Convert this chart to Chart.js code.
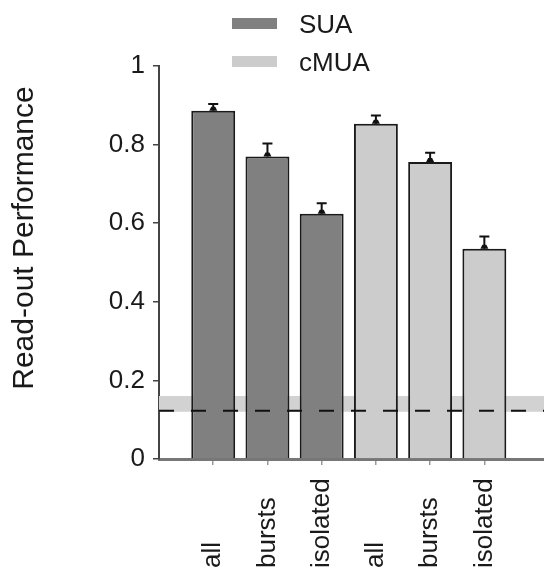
<!DOCTYPE html>
<html><head><meta charset="utf-8">
<script src="https://cdn.jsdelivr.net/npm/chart.js@4"></script>
<style>html,body{margin:0;padding:0;background:#fff;} #wrap{width:544px;height:572px;}</style>
</head><body><div id="wrap"><canvas id="c" width="544" height="572"></canvas></div>
<script>
const conditions = ['all', 'bursts', 'isolated'];
const seriesNames = ['SUA', 'cMUA'];
const suaValues = [0.886, 0.770, 0.624];
const suaErrors = [0.017, 0.033, 0.027];
const cmuaValues = [0.853, 0.756, 0.535];
const cmuaErrors = [0.021, 0.023, 0.031];
const yTicks = [0, 0.2, 0.4, 0.6, 0.8, 1];
const yTickLabels = ['0', '0.2', '0.4', '0.6', '0.8', '1'];
const chanceLevel = 0.123;
const chanceBand = [0.12, 0.16];
const yTitle = 'Read-out Performance';

const FONT = '"Liberation Sans", Arial, Helvetica, sans-serif';
const X_MAX = 7.1;
const COLORS = ['#808080', '#cccccc'];

const toPoints = (vals, offset) => vals.map((v, i) => ({x: offset + i + 1, y: v}));

const overlay = {
  id: 'overlay',
  afterDatasetsDraw(chart) {
    const ctx = chart.ctx;
    const ys = chart.scales.y;
    [[0, suaValues, suaErrors], [1, cmuaValues, cmuaErrors]].forEach(([di, vals, errs]) => {
      const meta = chart.getDatasetMeta(di);
      meta.data.forEach((bar, i) => {
        const top = ys.getPixelForValue(vals[i]);
        const end = ys.getPixelForValue(vals[i] + errs[i]);
        ctx.save();
        ctx.strokeStyle = '#111';
        ctx.lineWidth = 2;
        ctx.beginPath();
        ctx.moveTo(bar.x, top); ctx.lineTo(bar.x, end);
        ctx.moveTo(bar.x - 5, end); ctx.lineTo(bar.x + 5, end);
        ctx.stroke();
        ctx.fillStyle = '#111';
        ctx.beginPath();
        ctx.moveTo(bar.x - 4, top); ctx.lineTo(bar.x + 4, top);
        ctx.lineTo(bar.x + 2, top - 4); ctx.lineTo(bar.x - 2, top - 4);
        ctx.closePath(); ctx.fill();
        ctx.restore();
      });
    });
  },
  afterDraw(chart) {
    const ctx = chart.ctx;
    const xs = chart.scales.x;
    ctx.save();
    ctx.fillStyle = '#1a1a1a';
    ctx.font = '26px ' + FONT;
    ctx.textAlign = 'left';
    ctx.textBaseline = 'middle';
    seriesNames.forEach((s, g) => {
      conditions.forEach((c, i) => {
        const px = xs.getPixelForValue(g * conditions.length + i + 1);
        ctx.save();
        ctx.translate(px, 568);
        ctx.rotate(-Math.PI / 2);
        ctx.fillText(c, 0, 0);
        ctx.restore();
      });
    });
    ctx.save();
    ctx.font = '30px ' + FONT;
    ctx.textAlign = 'center';
    ctx.textBaseline = 'alphabetic';
    ctx.translate(33, 238);
    ctx.rotate(-Math.PI / 2);
    ctx.fillText(yTitle, 0, 0);
    ctx.restore();
    ctx.font = '26px ' + FONT;
    ctx.textAlign = 'left';
    ctx.textBaseline = 'alphabetic';
    seriesNames.forEach((s, k) => {
      ctx.fillStyle = COLORS[k];
      ctx.fillRect(232, 18 + k * 38, 45, 11);
      ctx.fillStyle = '#1a1a1a';
      ctx.fillText(s, 299, 33 + k * 38);
    });
    ctx.restore();
  }
};

new Chart(document.getElementById('c'), {
  type: 'bar',
  data: {
    datasets: [
      { type: 'bar', label: seriesNames[0], data: toPoints(suaValues, 0), backgroundColor: COLORS[0],
        borderColor: '#1a1a1a', borderWidth: 2, grouped: false, order: 2,
        barPercentage: 0.81, categoryPercentage: 1 },
      { type: 'bar', label: seriesNames[1], data: toPoints(cmuaValues, conditions.length), backgroundColor: COLORS[1],
        borderColor: '#1a1a1a', borderWidth: 2, grouped: false, order: 2,
        barPercentage: 0.81, categoryPercentage: 1 },
      { type: 'line', label: 'chance band', data: [{x: 0, y: chanceBand[1]}, {x: X_MAX, y: chanceBand[1]}],
        borderWidth: 0, borderColor: 'rgba(0,0,0,0)', pointRadius: 0, backgroundColor: '#d2d2d2',
        fill: {value: chanceBand[0]}, order: 3 },
      { type: 'line', label: 'chance', data: [{x: 0, y: chanceLevel}, {x: X_MAX, y: chanceLevel}],
        borderWidth: 2, borderColor: '#111', borderDash: [15, 17], pointRadius: 0, fill: false, order: 1 }
    ]
  },
  options: {
    responsive: false,
    animation: false,
    events: [],
    layout: { padding: { top: 66, left: 0, right: 0, bottom: 0 } },
    plugins: { legend: { display: false }, tooltip: { enabled: false } },
    scales: {
      x: {
        type: 'linear', min: 0, max: X_MAX, position: 'bottom', offset: false,
        afterBuildTicks: (s) => { s.ticks = Array.from({length: conditions.length * 2}, (_, i) => ({value: i + 1})); },
        afterFit: (s) => { s.height = 572 - 459; },
        ticks: { display: false },
        grid: { offset: false, drawOnChartArea: false, drawTicks: true, tickLength: 6, color: '#999', lineWidth: 1.5 },
        border: { display: true, color: '#777', width: 3 }
      },
      y: {
        min: 0, max: 1,
        afterBuildTicks: (s) => { s.ticks = yTicks.map(v => ({value: v})); },
        afterFit: (s) => { s.width = 159; },
        ticks: { color: '#1a1a1a', font: { family: FONT, size: 26 }, padding: 8,
          callback: (v, i) => yTickLabels[i] },
        grid: { drawOnChartArea: false, drawTicks: true, tickLength: 6, color: '#444', lineWidth: 1.5 },
        border: { display: true, color: '#444', width: 2 }
      }
    }
  },
  plugins: [overlay]
});
</script>
</body></html>
